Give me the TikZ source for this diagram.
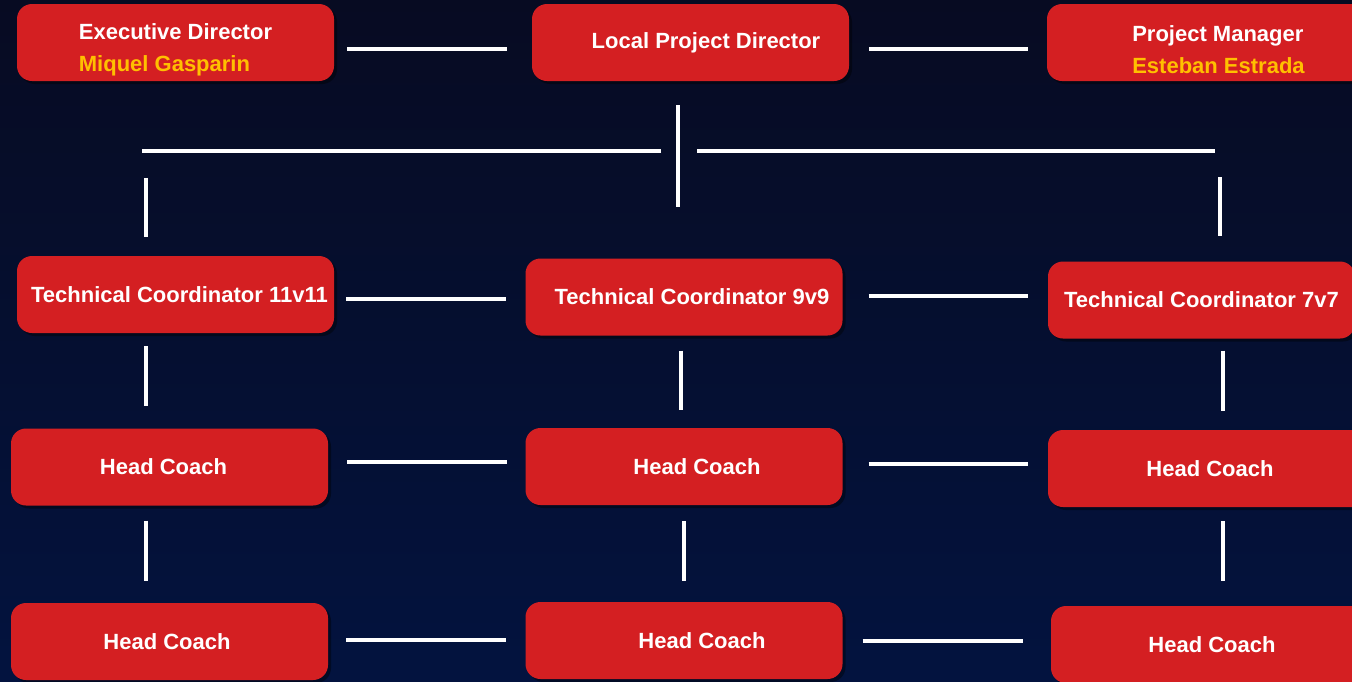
\documentclass[tikz,border=0pt]{standalone}
\usepackage{fontspec}
\setmainfont{Liberation Sans}
\usetikzlibrary{calc,positioning,shadows}

\definecolor{boxred}{RGB}{212,31,34}
\definecolor{namegold}{RGB}{255,192,0}
\definecolor{bgtop}{RGB}{7,11,34}
\definecolor{bgbottom}{RGB}{3,19,63}

\begin{document}
\begin{tikzpicture}[x=1pt,y=-1pt,
    box/.style={rectangle,rounded corners=15pt,fill=boxred,minimum width=317pt,minimum height=77pt,inner sep=0pt,text=white,font=\fontsize{22}{32}\selectfont\bfseries,drop shadow={fill=black,opacity=0.4,shadow xshift=3pt,shadow yshift=-3pt}},
    role/.style={box,align=left},
    nudge/.style={execute at begin node=\hspace*{#1}},
    link/.style={draw=white,line width=4pt}]

    % background
    \fill[top color=bgtop,bottom color=bgbottom] (0,0) rectangle (1352,681);
    \useasboundingbox (0,0) rectangle (1352,681);
    \clip (0,0) rectangle (1352,681);

    % top row
    \node[role] (exec) at (175.5,42.5) {\rule{0pt}{30pt}Executive Director\\\textcolor{namegold}{Miquel Gasparin}};
    \node[box,nudge=31pt] (lpd) at (690.5,42.5) {Local Project Director};
    \node[role,minimum width=343pt] (pm) at (1218.5,42.5) {\rule{0pt}{30pt}Project Manager\\\textcolor{namegold}{Esteban Estrada}};
    % coordinators
    \node[box,nudge=8pt] (tcA) at (175.5,294.5) {Technical Coordinator 11v11};
    \node[box,nudge=16pt] (tcB) at (684,297) {Technical Coordinator 9v9};
    \node[box,minimum width=307pt] (tcC) at (1201.5,300) {Technical Coordinator 7v7};
    % head coaches
    \node[box,nudge=-12pt] (hcA1) at (169.5,467) {Head Coach};
    \node[box,nudge=26pt] (hcB1) at (684,466.5) {Head Coach};
    \node[box,minimum width=324pt] (hcC1) at (1210,468.5) {Head Coach};
    \node[box,nudge=-5pt] (hcA2) at (169.5,641.5) {Head Coach};
    \node[box,nudge=36pt] (hcB2) at (684,640.5) {Head Coach};
    \node[box,minimum width=322pt] (hcC2) at (1212,644.5) {Head Coach};

    % top row links
    \draw[link] ($(exec.east)+(13,6.5)$) -- ($(lpd.west)+(-25,6.5)$);
    \draw[link] ($(lpd.east)+(20,6.5)$) -- ($(pm.west)+(-19,6.5)$);

    % branch down to the coordinators
    \coordinate (hub) at ($(lpd.south)+(-12.5,70)$);
    \draw[link] ($(lpd.south)+(-12.5,24)$) -- ($(hub)+(0,56)$);
    \draw[link] ($(hub)+(-17,0)$) -- ($(hub -| tcA.north)+(-33.5,0)$);
    \draw[link] ($(hub)+(19,0)$) -- ($(hub -| tcC.north)+(13.5,0)$);
    \draw[link] ($(tcA.north)+(-29.5,-78)$) -- ($(tcA.north)+(-29.5,-19)$);
    \draw[link] ($(tcC.north)+(18.5,-84)$) -- ($(tcC.north)+(18.5,-25)$);

    % coordinator row
    \draw[link] ($(tcA.east)+(12,4.5)$) -- ($(tcB.west)+(-19,2)$);
    \draw[link] ($(tcB.east)+(26,-1)$) -- ($(tcC.west)+(-20,-4)$);
    \draw[link] ($(tcA.south)+(-29.5,13)$) -- ($(hcA1.north)+(-23.5,-22)$);
    \draw[link] ($(tcB.south)+(-3,15)$) -- ($(hcB1.north)+(-3,-18)$);
    \draw[link] ($(tcC.south)+(21.5,12)$) -- ($(hcC1.north)+(13,-19)$);

    % first coach row
    \draw[link] ($(hcA1.east)+(19,-5)$) -- ($(hcB1.west)+(-18,-4.5)$);
    \draw[link] ($(hcB1.east)+(26,-2.5)$) -- ($(hcC1.west)+(-20,-4.5)$);
    \draw[link] ($(hcA1.south)+(-23.5,15)$) -- ($(hcA2.north)+(-23.5,-22)$);
    \draw[link] ($(hcB1.south)+(0,16)$) -- ($(hcB2.north)+(0,-21)$);
    \draw[link] ($(hcC1.south)+(13,14)$) -- ($(hcC2.north)+(11,-25)$);

    % second coach row
    \draw[link] ($(hcA2.east)+(18,-1.5)$) -- ($(hcB2.west)+(-19,-0.5)$);
    \draw[link] ($(hcB2.east)+(20,0.5)$) -- ($(hcC2.west)+(-28,-3.5)$);

\end{tikzpicture}
\end{document}
